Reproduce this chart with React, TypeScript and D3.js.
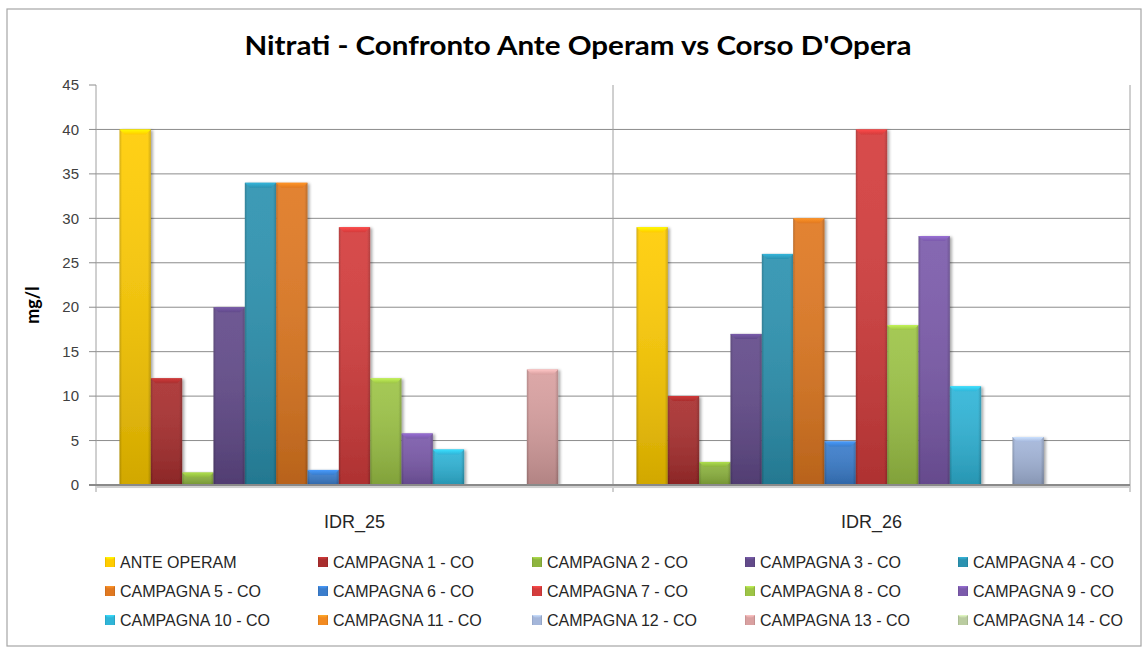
import React from "react";
import * as d3 from "d3";

const categories = ["IDR_25", "IDR_26"];
const seriesNames = [
  "ANTE OPERAM",
  "CAMPAGNA 1 - CO",
  "CAMPAGNA 2 - CO",
  "CAMPAGNA 3 - CO",
  "CAMPAGNA 4 - CO",
  "CAMPAGNA 5 - CO",
  "CAMPAGNA 6 - CO",
  "CAMPAGNA 7 - CO",
  "CAMPAGNA 8 - CO",
  "CAMPAGNA 9 - CO",
  "CAMPAGNA 10 - CO",
  "CAMPAGNA 11 - CO",
  "CAMPAGNA 12 - CO",
  "CAMPAGNA 13 - CO",
  "CAMPAGNA 14 - CO",
];
const seriesColors = [
  "#FFCC00",
  "#A92E2E",
  "#8DB43E",
  "#624A8A",
  "#2B92B0",
  "#E07820",
  "#3A7DCC",
  "#D43C3C",
  "#9DC446",
  "#7B5AAB",
  "#2FB5D8",
  "#F28A20",
  "#A4B6DA",
  "#D9A0A0",
  "#BACCA0",
];
const valuesIDR25 = [40, 12, 1.4, 20, 34, 34, 1.7, 29, 12, 5.8, 4, 0, 0, 13, 0];
const valuesIDR26 = [29, 10, 2.6, 17, 26, 30, 4.9, 40, 18, 28, 11.1, 0, 5.4, 0, 0];
const yTicks = [0, 5, 10, 15, 20, 25, 30, 35, 40, 45];

const W = 1144;
const H = 650;
const plot = { left: 96, right: 1130, top: 85, bottom: 485 };

export default function App() {
  const x0 = d3.scaleBand<string>().domain(categories).range([plot.left, plot.right]).paddingInner(0).paddingOuter(0);
  const x1 = d3
    .scaleBand<string>()
    .domain(seriesNames)
    .range([0, x0.bandwidth()])
    .paddingInner(0)
    .paddingOuter(0.75);
  const y = d3.scaleLinear().domain([0, 45]).range([plot.bottom, plot.top]);
  const data = [valuesIDR25, valuesIDR26];
  const font = "'Liberation Sans', Arial, sans-serif";
  const titleFont = "Lato, 'Open Sans', sans-serif";
  const bw = x1.bandwidth();

  const legendCols = [105, 318, 532, 745, 958];
  const legendRows = [562, 591, 620];

  return (
    <svg width={W} height={H} style={{ position: "absolute", left: 0, top: 0, background: "#fff" }}>
      <defs>
        {seriesColors.map((c, i) => {
          const dark = d3.color(c)!.darker(0.6).formatHex();
          const light = d3.color(c)!.brighter(0.6).formatHex();
          return (
            <React.Fragment key={i}>
              <linearGradient id={`h${i}`} x1="0" x2="1" y1="0" y2="0">
                <stop offset="0" stopColor={dark} />
                <stop offset="0.08" stopColor={c} />
                <stop offset="0.9" stopColor={c} />
                <stop offset="1" stopColor={dark} />
              </linearGradient>
              <linearGradient id={`v${i}`} x1="0" x2="0" y1="0" y2="1">
                <stop offset="0" stopColor="#fff" stopOpacity={0.08} />
                <stop offset="1" stopColor="#000" stopOpacity={0.18} />
              </linearGradient>
              <linearGradient id={`t${i}`} x1="0" x2="0" y1="0" y2="1">
                <stop offset="0" stopColor={light} />
                <stop offset="1" stopColor={c} />
              </linearGradient>
            </React.Fragment>
          );
        })}
        <filter id="shadow" x="-20%" y="-20%" width="140%" height="140%">
          <feGaussianBlur in="SourceAlpha" stdDeviation="1.5" />
          <feOffset dx="2" dy="1" result="b" />
          <feComponentTransfer>
            <feFuncA type="linear" slope="0.35" />
          </feComponentTransfer>
          <feMerge>
            <feMergeNode />
            <feMergeNode in="SourceGraphic" />
          </feMerge>
        </filter>
      </defs>

      {/* outer border */}
      <rect x={7} y={9} width={1134} height={637} fill="#fff" stroke="#a6a6a6" strokeWidth={1.2} />

      {/* title */}
      <text
        x={W / 2 + 6}
        y={55}
        textAnchor="middle"
        fontFamily={titleFont}
        fontWeight="bold"
        fontSize={27}
        fill="#000"
        textLength={667}
        lengthAdjust="spacingAndGlyphs"
      >
        Nitrati - Confronto Ante Operam vs Corso D'Opera
      </text>

      {/* horizontal gridlines */}
      {yTicks
        .filter((t) => t > 0 && t < 45)
        .map((t) => (
          <line key={t} x1={plot.left} x2={plot.right} y1={y(t)} y2={y(t)} stroke="#8c8c8c" strokeWidth={1} />
        ))}
      {/* vertical category gridlines */}
      {categories.map((c) => (
        <line
          key={c}
          x1={(x0(c) as number) + x0.bandwidth()}
          x2={(x0(c) as number) + x0.bandwidth()}
          y1={plot.top}
          y2={plot.bottom + 7}
          stroke="#a0a0a0"
          strokeWidth={1}
        />
      ))}

      {/* y axis */}
      <line x1={plot.left} x2={plot.left} y1={plot.top} y2={plot.bottom + 7} stroke="#a0a0a0" strokeWidth={1} />
      {yTicks.map((t) => (
        <g key={t}>
          <line x1={plot.left - 7} x2={plot.left} y1={y(t)} y2={y(t)} stroke="#8c8c8c" />
          <text
            x={79}
            y={y(t)}
            dy="0.35em"
            textAnchor="end"
            fontFamily={font}
            fontSize={15}
            fill="#404040"
          >
            {t}
          </text>
        </g>
      ))}

      {/* bars */}
      {categories.map((c, ci) => (
        <g key={c} transform={`translate(${x0(c)},0)`}>
          {seriesNames.map((s, si) => {
            const v = data[ci][si];
            if (!v) return null;
            const bx = x1(s) as number;
            const by = y(v);
            const bh = y(0) - y(v);
            const bev = Math.min(5, bh / 2);
            return (
              <g key={s} filter="url(#shadow)">
                <rect x={bx} y={by} width={bw} height={bh} fill={`url(#h${si})`} />
                <rect x={bx} y={by} width={bw} height={bh} fill={`url(#v${si})`} />
                <polygon
                  points={`${bx},${by} ${bx + bw},${by} ${bx + bw - 5},${by + bev} ${bx + 5},${by + bev}`}
                  fill={`url(#t${si})`}
                />
              </g>
            );
          })}
        </g>
      ))}

      {/* x axis line */}
      <line x1={plot.left - 7} x2={plot.right} y1={plot.bottom} y2={plot.bottom} stroke="#8a8a8a" strokeWidth={2} />
      <line x1={plot.left} x2={plot.right} y1={plot.bottom + 2} y2={plot.bottom + 2} stroke="#d0d0d0" strokeWidth={2} />

      {/* category labels */}
      {categories.map((c) => (
        <text
          key={c}
          x={(x0(c) as number) + x0.bandwidth() / 2}
          y={522}
          dy="0.35em"
          textAnchor="middle"
          fontFamily={font}
          fontSize={18}
          fill="#262626"
        >
          {c}
        </text>
      ))}

      {/* y axis title */}
      <text
        transform={`translate(33,305) rotate(-90)`}
        textAnchor="middle"
        dy="0.35em"
        fontFamily={titleFont}
        fontWeight="bold"
        fontSize={18}
        fill="#000"
      >
        mg/l
      </text>

      {/* legend */}
      {seriesNames.map((s, i) => {
        const cx = legendCols[i % 5];
        const cy = legendRows[Math.floor(i / 5)];
        return (
          <g key={s}>
            <rect x={cx} y={cy - 5} width={10} height={10} fill={`url(#h${i})`} />
            <polygon
              points={`${cx},${cy - 5} ${cx + 10},${cy - 5} ${cx + 7},${cy - 2} ${cx + 3},${cy - 2}`}
              fill={`url(#t${i})`}
            />
            <text x={cx + 15} y={cy} dy="0.35em" fontFamily={font} fontSize={16} fill="#262626">
              {s}
            </text>
          </g>
        );
      })}
    </svg>
  );
}
